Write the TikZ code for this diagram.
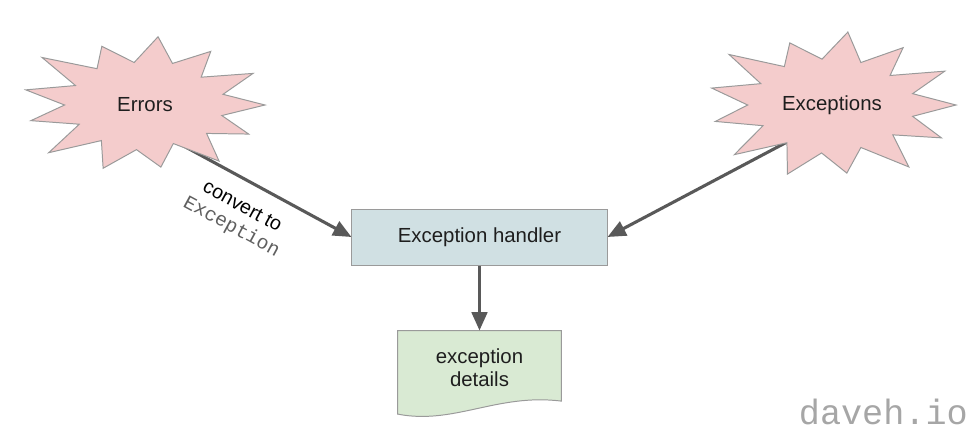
\documentclass[tikz,border=0pt]{standalone}
\usepackage{fontspec}
\setmainfont{Liberation Sans}
\setmonofont{Liberation Mono}
\usepackage{tikz}
\usetikzlibrary{positioning}
\usetikzlibrary{arrows.meta}
\usetikzlibrary{backgrounds}
\usetikzlibrary{calc}
\definecolor{burstpink}{HTML}{F4CCCC}
\definecolor{handlerblue}{HTML}{D0E0E3}
\definecolor{detailsgreen}{HTML}{D9EAD3}
\definecolor{shapegray}{HTML}{9A9A9A}
\definecolor{arrowgray}{HTML}{595959}
\definecolor{textdark}{HTML}{1E1E1E}
\definecolor{codegray}{HTML}{5F5F5F}
\definecolor{markgray}{HTML}{A6A6A6}
\tikzset{
burst_text/.style={text=textdark, font=\fontsize{14.5}{17}\selectfont},
burst_shape/.style={draw=shapegray, fill=burstpink, line width=0.7pt, line join=miter},
handler_box/.style={rectangle, draw=shapegray, fill=handlerblue, line width=0.7pt, minimum width=6.375cm, minimum height=1.4cm, text=textdark, font=\fontsize{14.5}{17}\selectfont},
details_item/.style={rectangle, minimum width=4.075cm, minimum height=1.85cm, align=center, text=textdark, font=\fontsize{14.5}{17}\selectfont},
flow_arrow/.style={-{Triangle[length=13pt, width=11pt]}, line width=2.2pt, color=arrowgray},
label_text/.style={align=center, text=black, font=\fontsize{14}{16}\selectfont}
}
% spiky outline round a node: #1 node, #2 x radius, #3 y radius, #4 angle/scale list
\newcommand{\burstpath}[4]{%
  \draw[burst_shape] ($(#1.center)+(#2,0)$)
    \foreach \a/\s in {#4} { -- ($(#1.center)+({#2*\s*cos(\a)},{#3*\s*sin(\a)})$) } -- cycle;}

\begin{document}
\begin{tikzpicture}[x=0.025cm, y=-0.025cm]
    \useasboundingbox (0,0) rectangle (975,436);
    \node[burst_text] (errors) at (145,105) {Errors};
    \node[burst_text] (exceptions) at (832,105) {Exceptions};
    \node[handler_box] (handler) at (479.5,237) {Exception handler};
    \node[details_item] (details) [below=1.625cm of handler] {exception\\[-1pt]details};
    \begin{pgfonlayer}{background}
        \draw[fill=detailsgreen, draw=shapegray, line width=0.7pt]
            (details.north west) -- (details.north east) -- ([yshift=0.1cm]details.south east)
            .. controls ([xshift=-1.6cm, yshift=0.3cm]details.south east) and ([xshift=1.4cm, yshift=-0.5cm]details.south west) .. ([yshift=-0.225cm]details.south west) -- cycle;
        \draw[flow_arrow] ([yshift=-0.5cm]errors.center) -- (handler.west)
            node[pos=0.53, sloped, below=0.3cm, label_text] {convert to\\{\ttfamily\color{codegray}Exception}};
        \draw[flow_arrow] ([yshift=-0.33cm]exceptions.center) -- (handler.east);
        \burstpath{errors}{120}{66}{14/0.66, 27/0.97, 40/0.67, 54/1.05, 68/0.63, 82/0.95, 96/0.68, 110/1.02, 124/0.65, 138/1.08, 152/0.62, 166/0.98, 180/0.67, 193/1.02, 207/0.65, 220/1.12, 234/0.68, 248/0.96, 262/0.65, 276/1.04, 290/0.67, 304/0.98, 318/0.63, 332/1.02, 346/0.67}
        \burstpath{exceptions}{124}{70}{14/0.67, 28/1.0, 41/0.65, 55/1.08, 69/0.65, 83/0.98, 97/0.69, 110/1.05, 124/0.65, 138/1.06, 152/0.63, 166/0.97, 180/0.68, 194/1.0, 208/0.65, 221/1.1, 235/0.67, 249/0.95, 263/0.66, 277/1.05, 291/0.65, 305/1.0, 318/0.63, 332/1.03, 346/0.67}
    \end{pgfonlayer}
    \draw[flow_arrow] (handler.south) -- (details.north);
    \node[anchor=base east, inner sep=0pt, text=markgray, font=\ttfamily\fontsize{25}{28}\selectfont] (site) at (968,424) {daveh.io};
\end{tikzpicture}
\end{document}
